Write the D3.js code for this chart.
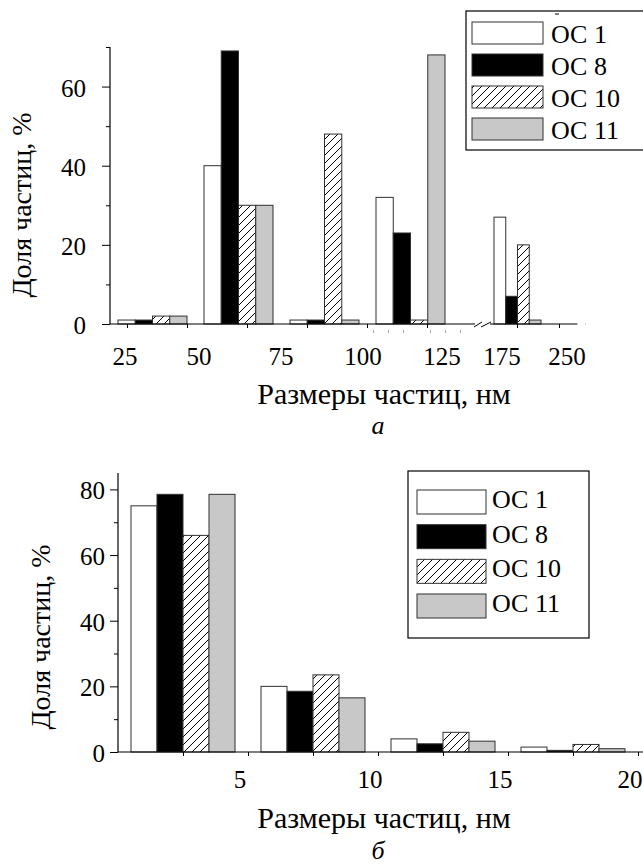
<!DOCTYPE html>
<html><head><meta charset="utf-8">
<script src="https://cdn.jsdelivr.net/npm/d3@7"></script>
<style>
body{margin:0;background:#fff}
svg{display:block}
</style>
</head><body>
<svg id="c" width="643" height="865" font-family="'Liberation Serif', 'Times New Roman', Tinos, 'DejaVu Serif', serif"></svg>
<script>
// ---------- DATA ----------
const seriesNames = ["ОС 1", "ОС 8", "ОС 10", "ОС 11"];

// chart a: particle size bins (nm)
const topBins = ["25–50", "50–75", "75–100", "100–125", "175–250"];
const topOC1  = [1, 40, 1, 32, 27];
const topOC8  = [1, 69, 1, 23, 7];
const topOC10 = [2, 30, 48, 1, 20];
const topOC11 = [2, 30, 1, 68, 1];
const topTickLabels = [25, 50, 75, 100, 125, 175, 250];
const topYTicks = [0, 20, 40, 60];
const topYMinor = [10, 30, 50, 70];

// chart б: particle size bins (nm)
const botBinStart = [0, 5, 10, 15];
const botOC1  = [75, 20, 4, 1.5];
const botOC8  = [78.5, 18.5, 2.5, 0.5];
const botOC10 = [66, 23.5, 6, 2.3];
const botOC11 = [78.5, 16.5, 3.3, 1];
const botXTicks = [5, 10, 15, 20];
const botXMinor = [2.5, 7.5, 12.5, 17.5];
const botYTicks = [0, 20, 40, 60, 80];
const botYMinor = [10, 30, 50, 70];

// ---------- STYLE ----------
const fills = ["#ffffff", "#000000", "url(#hatch)", "#c8c8c8"];
const barStroke = "#303030";
const tickFont = 25, legendFont = 26, xTitleFont = 30, yTitleFont = 28, tagFont = 26;

const svg = d3.select("#c");
const defs = svg.append("defs");
const pat = defs.append("pattern").attr("id", "hatch")
  .attr("patternUnits", "userSpaceOnUse").attr("width", 8).attr("height", 8);
pat.append("rect").attr("width", 8).attr("height", 8).attr("fill", "#fff");
pat.append("path").attr("d", "M-2,2 L2,-2 M0,8 L8,0 M6,10 L10,6")
  .attr("stroke", "#000").attr("stroke-width", 1);

function series(arrs) {
  return arrs[0].map((_, i) => seriesNames.map((s, k) => ({ s, k, v: arrs[k][i], i })));
}

// ================= CHART A =================
(function () {
  const x0 = 110, y0 = 324, yTop = 47;
  const y = d3.scaleLinear().domain([0, 70]).range([y0, yTop]);
  const xBand = d3.scaleBand().domain(topBins).range([x0, x0 + 86 * topBins.length]).padding(0);
  // inner layout (last group is after the axis break, narrower)
  const gOffset = [8, 8, 8, 8, 40];
  const gWidth = [69, 69, 69, 69, 47];
  const data = series([topOC1, topOC8, topOC10, topOC11]);
  const g = svg.append("g");

  data.forEach((grp, i) => {
    const xIn = d3.scaleBand().domain(seriesNames)
      .range([xBand(topBins[i]) + gOffset[i], xBand(topBins[i]) + gOffset[i] + gWidth[i]]);
    g.selectAll(null).data(grp).enter().append("rect")
      .attr("x", d => xIn(d.s)).attr("width", xIn.bandwidth())
      .attr("y", d => y(d.v)).attr("height", d => y(0) - y(d.v))
      .attr("fill", d => fills[d.k]).attr("stroke", barStroke).attr("stroke-width", 1);
  });

  // y axis
  svg.append("g").attr("transform", `translate(${x0},0)`)
    .call(d3.axisLeft(y).tickValues(topYTicks).tickSize(8).tickFormat(""))
    .call(s => s.select(".domain").remove());
  svg.append("g").attr("transform", `translate(${x0},0)`)
    .call(d3.axisLeft(y).tickValues(topYMinor).tickSize(4).tickFormat(""))
    .call(s => s.select(".domain").remove());
  svg.append("line").attr("x1", x0).attr("x2", x0).attr("y1", yTop).attr("y2", y0)
    .attr("stroke", "#000").attr("stroke-width", 1.2);
  svg.append("g").selectAll("text").data(topYTicks).enter().append("text")
    .attr("x", 86).attr("y", d => y(d) + 10).attr("text-anchor", "end")
    .attr("font-size", tickFont).text(d => d);

  // x axis line with break
  const xb1 = 475, xb2 = 490, xEnd = 577;
  svg.append("line").attr("x1", x0).attr("x2", xb1).attr("y1", y0).attr("y2", y0)
    .attr("stroke", "#000").attr("stroke-width", 1.2);
  svg.append("line").attr("x1", xb2).attr("x2", xEnd).attr("y1", y0).attr("y2", y0)
    .attr("stroke", "#000").attr("stroke-width", 1.2);
  svg.append("line").attr("x1", xEnd).attr("x2", 593).attr("y1", y0).attr("y2", y0)
    .attr("stroke", "#999").attr("stroke-width", 1).attr("stroke-dasharray", "1,7");
  svg.append("path").attr("d", `M${xb1 - 1},${y0 + 3} L${xb1 + 7},${y0 - 2} M${xb2 - 9},${y0 + 3} L${xb2 + 1},${y0 - 2}`)
    .attr("stroke", "#000").attr("stroke-width", 1);

  // x tick marks
  const xMark = d3.scaleLinear().domain([0, 1]).range([127, 187]);
  svg.append("g").attr("transform", `translate(0,${y0})`)
    .call(d3.axisBottom(xMark).tickValues([0, 1, 2, 3, 4, 5, 6.5, 7.2]).tickSize(4).tickFormat(""))
    .call(s => s.select(".domain").remove());
  // faint remnant dashes of an older axis under the labels
  svg.append("g").attr("transform", `translate(0,${y0 + 6})`)
    .call(d3.axisBottom(xMark).tickValues([4.1, 4.35, 4.6, 5.05, 5.3, 5.55]).tickSize(3).tickFormat(""))
    .call(s => s.select(".domain").remove())
    .call(s => s.selectAll("line").attr("stroke", "#aaa"));

  // x tick labels (piecewise nm scale)
  const xLab = d3.scaleLinear().domain(topTickLabels).range([125, 199, 281, 363, 442, 502, 567]);
  svg.append("g").selectAll("text").data(topTickLabels).enter().append("text")
    .attr("x", d => xLab(d)).attr("y", 365).attr("text-anchor", "middle")
    .attr("font-size", tickFont).text(d => d);

  // axis titles
  svg.append("text").attr("transform", "translate(31,205) rotate(-90)")
    .attr("text-anchor", "middle").attr("font-size", yTitleFont).text("Доля частиц, %");
  svg.append("text").attr("x", 384).attr("y", 404).attr("text-anchor", "middle")
    .attr("font-size", xTitleFont).text("Размеры частиц, нм");
  svg.append("text").attr("x", 378).attr("y", 434).attr("text-anchor", "middle")
    .attr("font-size", tagFont).attr("font-style", "italic").text("а");

  // legend
  const lg = svg.append("g");
  lg.append("rect").attr("x", 466).attr("y", 11).attr("width", 200).attr("height", 139)
    .attr("fill", "#fff").attr("stroke", "#000").attr("stroke-width", 1.2);
  lg.append("line").attr("x1", 555).attr("x2", 559).attr("y1", 14).attr("y2", 14).attr("stroke", "#000");
  const ly = d3.scalePoint().domain(seriesNames).range([22, 118]);
  lg.selectAll("rect.sw").data(seriesNames).enter().append("rect").attr("class", "sw")
    .attr("x", 472).attr("y", d => ly(d)).attr("width", 71).attr("height", 22)
    .attr("fill", (d, i) => fills[i]).attr("stroke", barStroke).attr("stroke-width", 1);
  lg.selectAll("text").data(seriesNames).enter().append("text")
    .attr("x", 551).attr("y", d => ly(d) + 21).attr("font-size", legendFont).text(d => d);
})();

// ================= CHART Б =================
(function () {
  const x0 = 118, y0 = 752, yTop = 473;
  const y = d3.scaleLinear().domain([0, 85]).range([y0, yTop]);
  const x = d3.scaleLinear().domain([0, 20]).range([x0, 638]);
  const data = series([botOC1, botOC8, botOC10, botOC11]);
  const g = svg.append("g");
  data.forEach((grp, i) => {
    g.selectAll(null).data(grp).enter().append("rect")
      .attr("x", d => x(botBinStart[i] + 0.5 + d.k))
      .attr("width", d => x(botBinStart[i] + 1.5 + d.k) - x(botBinStart[i] + 0.5 + d.k))
      .attr("y", d => y(d.v)).attr("height", d => y(0) - y(d.v))
      .attr("fill", d => fills[d.k]).attr("stroke", barStroke).attr("stroke-width", 1);
  });

  // y axis
  svg.append("g").attr("transform", `translate(${x0},0)`)
    .call(d3.axisLeft(y).tickValues(botYTicks).tickSize(8).tickFormat(""))
    .call(s => s.select(".domain").remove());
  svg.append("g").attr("transform", `translate(${x0},0)`)
    .call(d3.axisLeft(y).tickValues(botYMinor).tickSize(4).tickFormat(""))
    .call(s => s.select(".domain").remove());
  svg.append("line").attr("x1", x0).attr("x2", x0).attr("y1", yTop).attr("y2", y0)
    .attr("stroke", "#000").attr("stroke-width", 1.2);
  svg.append("g").selectAll("text").data(botYTicks).enter().append("text")
    .attr("x", 105).attr("y", d => y(d) + 10).attr("text-anchor", "end")
    .attr("font-size", tickFont).text(d => d);

  // x axis
  svg.append("line").attr("x1", x0).attr("x2", 643).attr("y1", y0).attr("y2", y0)
    .attr("stroke", "#000").attr("stroke-width", 1.2);
  svg.append("g").attr("transform", `translate(0,${y0})`)
    .call(d3.axisBottom(x).tickValues(botXMinor.concat(botXTicks)).tickSize(4).tickFormat(""))
    .call(s => s.select(".domain").remove());
  svg.append("g").selectAll("text").data(botXTicks).enter().append("text")
    .attr("x", d => x(d) - 8).attr("y", 788).attr("text-anchor", "middle")
    .attr("font-size", tickFont).text(d => d);

  // titles
  svg.append("text").attr("transform", "translate(50,637) rotate(-90)")
    .attr("text-anchor", "middle").attr("font-size", yTitleFont).text("Доля частиц, %");
  svg.append("text").attr("x", 384).attr("y", 828).attr("text-anchor", "middle")
    .attr("font-size", xTitleFont).text("Размеры частиц, нм");
  svg.append("text").attr("x", 378).attr("y", 859).attr("text-anchor", "middle")
    .attr("font-size", tagFont).attr("font-style", "italic").text("б");

  // legend
  const lg = svg.append("g");
  lg.append("rect").attr("x", 408).attr("y", 471).attr("width", 181).attr("height", 167)
    .attr("fill", "#fff").attr("stroke", "#000").attr("stroke-width", 1.2);
  const ly = d3.scalePoint().domain(seriesNames).range([490, 594]);
  lg.selectAll("rect.sw").data(seriesNames).enter().append("rect").attr("class", "sw")
    .attr("x", 417).attr("y", d => ly(d)).attr("width", 69).attr("height", 24)
    .attr("fill", (d, i) => fills[i]).attr("stroke", barStroke).attr("stroke-width", 1);
  lg.selectAll("text").data(seriesNames).enter().append("text")
    .attr("x", 492).attr("y", d => ly(d) + 18).attr("font-size", legendFont).text(d => d);
})();
</script>
</body></html>
